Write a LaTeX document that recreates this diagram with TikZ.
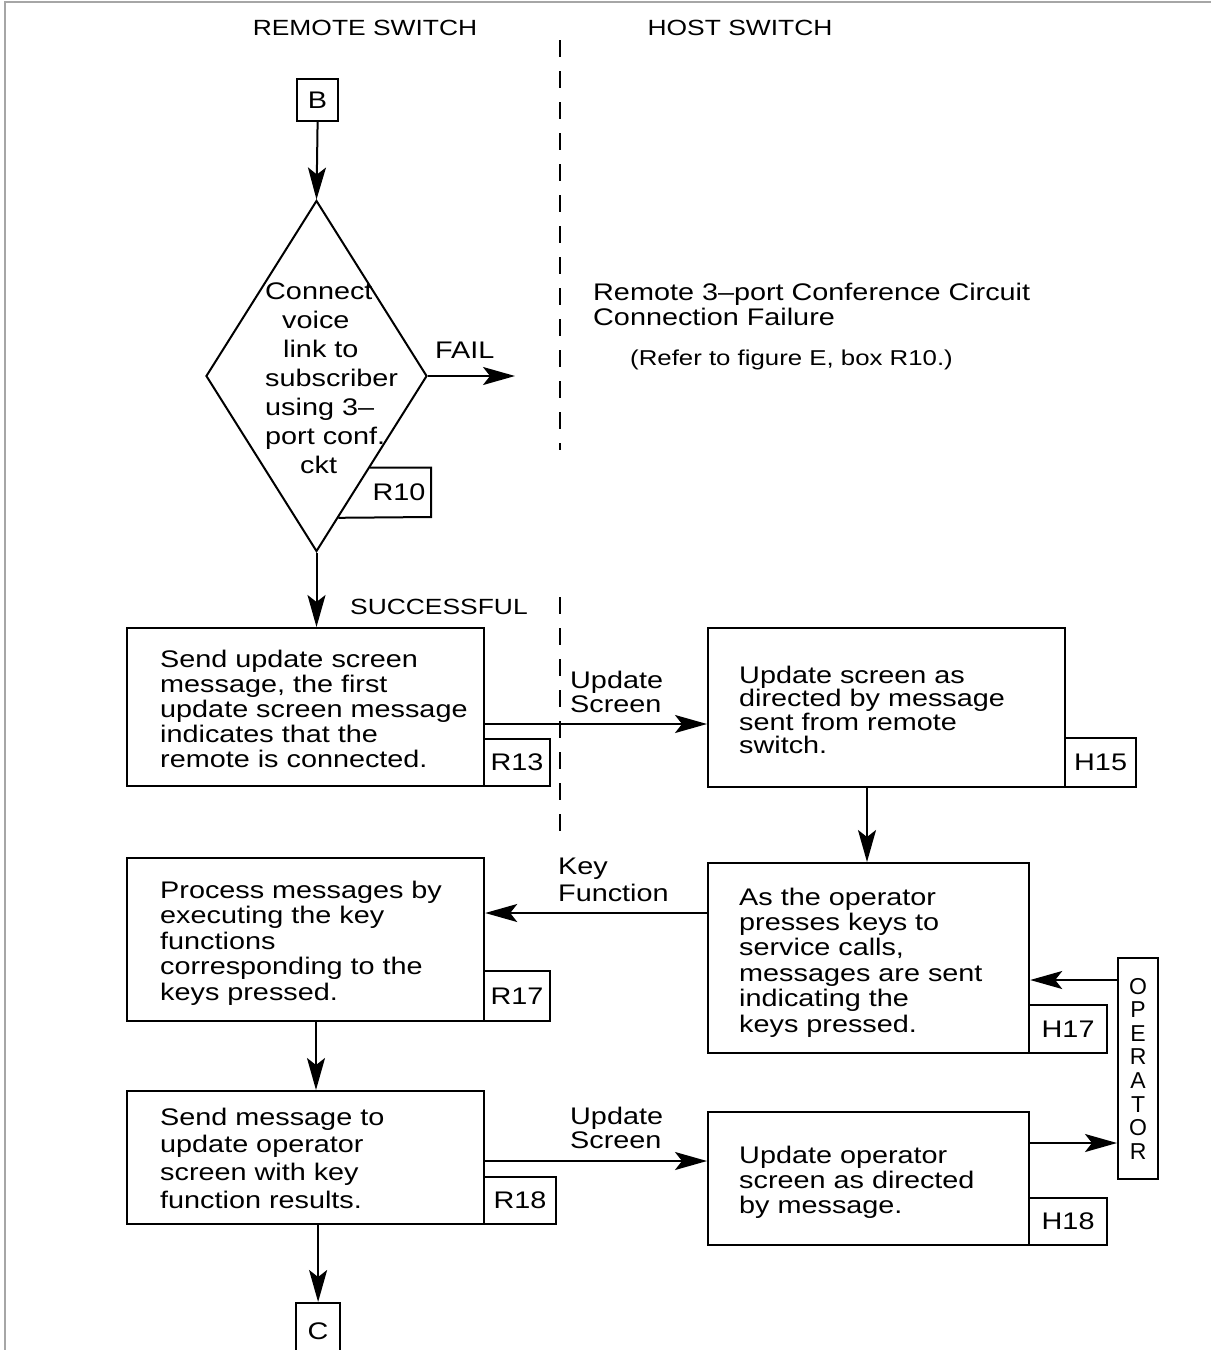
\documentclass[tikz,border=0pt]{standalone}
\usepackage{fontspec}
\setmainfont[FakeStretch=1.2]{Liberation Sans}
\newfontfamily\plainfont{Liberation Sans}
\usetikzlibrary{arrows.meta,shapes.geometric,calc}
\begin{document}
\begin{tikzpicture}[x=1pt,y=-1pt,
  box/.style={draw, line width=2.2pt, inner sep=0pt, anchor=north west},
  txt/.style={inner sep=0pt, align=left, anchor=north west, font=\fontsize{24}{25}\selectfont},
  tagtxt/.style={font=\fontsize{24}{25}\selectfont},
  lbl/.style={inner sep=0pt, anchor=base west, font=\fontsize{24}{25}\selectfont},
  conn/.style={line width=2pt, -{Stealth[length=32pt,width=18pt,inset=7pt]}},
  divider/.style={line width=2pt, dash pattern=on 17pt off 14pt},
  ]
\useasboundingbox (0,0) rectangle (1211,1350);
% frame
\draw[gray!70, line width=1.5pt] (5,1350) -- (5,2) -- (1211,2);

% headings
\node[inner sep=0pt, anchor=base, font=\fontsize{22}{24}\selectfont] (hrem) at (365,35) {REMOTE SWITCH};
\node[inner sep=0pt, anchor=base, font=\fontsize{22}{24}\selectfont] (hhost) at (740,35) {HOST SWITCH};

% divider
\coordinate (d1) at (560,40);
\coordinate (d2) at (560,450);
\coordinate (d3) at (560,597);
\coordinate (d4) at (560,835);
\draw[divider] (d1) -- (d2);
\draw[divider] (d3) -- (d4);

% B
\node[box, minimum width=41pt, minimum height=42pt, tagtxt] (b) at (296,78) {B};

% diamond
\node[draw, diamond, line width=2pt, inner sep=0pt, minimum width=221pt, minimum height=351pt] (dia) at (316.5,376) {};
\node[txt, font=\fontsize{24}{29}\selectfont] (diat) at (265,282.5) {Connect\\\hspace*{17pt}voice\\\hspace*{18pt}link to\\subscriber\\using 3–\\port conf.\\\hspace*{35pt}ckt};
\coordinate (ta) at ($(dia.east)!0.5185!(dia.south)$);
\coordinate (tb) at ($(dia.east)!0.8034!(dia.south)$);
\draw[line width=2pt] (ta) -- (ta -| 431,0) -- (431,517) -- (tb);
\node[tagtxt] (r10t) at (399,492) {R10};

% failure text
\coordinate (failend) at (515,376);
\node[lbl] (fail) at (435,358) {FAIL};
\node[txt] (remfail) at (593,282.5) {Remote 3–port Conference Circuit\\Connection Failure};
\node[inner sep=0pt, anchor=base west, font=\fontsize{21.5}{24}\selectfont] (refer) at (630,365) {(Refer to figure E, box R10.)};
\node[inner sep=0pt, anchor=base west, font=\fontsize{22}{24}\selectfont] (succ) at (350,614) {SUCCESSFUL};

% R13
\node[box, minimum width=357pt, minimum height=158pt] (r13) at (126,627) {};
\node[box, minimum width=66pt, minimum height=47pt, tagtxt] (r13t) at (483,738) {R13};
\node[txt] (r13x) at (160,649.5) {Send update screen\\message, the first\\update screen message\\indicates that the\\remote is connected.};

% H15
\node[box, minimum width=357pt, minimum height=159pt] (h15) at (707,627) {};
\node[box, minimum width=71pt, minimum height=49pt, tagtxt] (h15t) at (1064,737) {H15};
\node[txt, font=\fontsize{24}{23.5}\selectfont] (h15x) at (739,665.5) {Update screen as\\directed by message\\sent from remote\\switch.};

\node[txt, font=\fontsize{24}{24}\selectfont] (upd1) at (570,670.5) {Update\\Screen};

% H17
\node[box, minimum width=321pt, minimum height=190pt] (h17) at (707,862) {};
\node[box, minimum width=78pt, minimum height=48pt, tagtxt] (h17t) at (1028,1004) {H17};
\node[txt, font=\fontsize{24}{25.4}\selectfont] (h17x) at (739,887.5) {As the operator\\presses keys to\\service calls,\\messages are sent\\indicating the\\keys pressed.};

\node[txt, font=\fontsize{24}{27}\selectfont] (keyf) at (558,857.5) {Key\\Function};

% R17
\node[box, minimum width=357pt, minimum height=163pt] (r17) at (126,857) {};
\node[box, minimum width=66pt, minimum height=50pt, tagtxt] (r17t) at (483,970) {R17};
\node[txt, font=\fontsize{24}{25.5}\selectfont] (r17x) at (160,880.5) {Process messages by\\executing the key\\functions\\corresponding to the\\keys pressed.};

% OPERATOR
\node[box, minimum width=40pt, minimum height=221pt, align=center, font=\plainfont\fontsize{23}{23.6}\selectfont] (op) at (1117,957) {O\\P\\E\\R\\A\\T\\O\\R};

% R18
\node[box, minimum width=357pt, minimum height=133pt] (r18) at (126,1090) {};
\node[box, minimum width=72pt, minimum height=47pt, tagtxt] (r18t) at (483,1176) {R18};
\node[txt, font=\fontsize{24}{27.7}\selectfont] (r18x) at (160,1107.5) {Send message to\\update operator\\screen with key\\function results.};

\node[txt, font=\fontsize{24}{24}\selectfont] (upd2) at (570,1106.5) {Update\\Screen};

% H18
\node[box, minimum width=321pt, minimum height=133pt] (h18) at (707,1111) {};
\node[box, minimum width=78pt, minimum height=47pt, tagtxt] (h18t) at (1028,1197) {H18};
\node[txt, font=\fontsize{24}{25}\selectfont] (h18x) at (739,1145.5) {Update operator\\screen as directed\\by message.};

% C
\node[box, minimum width=44pt, minimum height=56pt, tagtxt] (c) at (295,1302) {C};

% connectors
\draw[conn] (b.south) -- (dia.north);
\draw[conn] (dia.east) -- (failend);
\draw[conn] (dia.south) -- (dia.south |- r13.north);
\draw[conn] (r13.east |- 0,724) -- (h15.west |- 0,724);
\draw[conn] (h15.south -| 867,0) -- (h17.north -| 867,0);
\draw[conn] (h17.west |- 0,913) -- (r17.east |- 0,913);
\draw[conn] (op.west |- 0,980) -- (h17.east |- 0,980);
\draw[conn] (r17.south -| 316,0) -- (r18.north -| 316,0);
\draw[conn] (r18.east |- 0,1161) -- (h18.west |- 0,1161);
\draw[conn] (h18.east |- 0,1143) -- (op.west |- 0,1143);
\draw[conn] (r18.south -| c.north) -- (c.north);
\end{tikzpicture}
\end{document}
